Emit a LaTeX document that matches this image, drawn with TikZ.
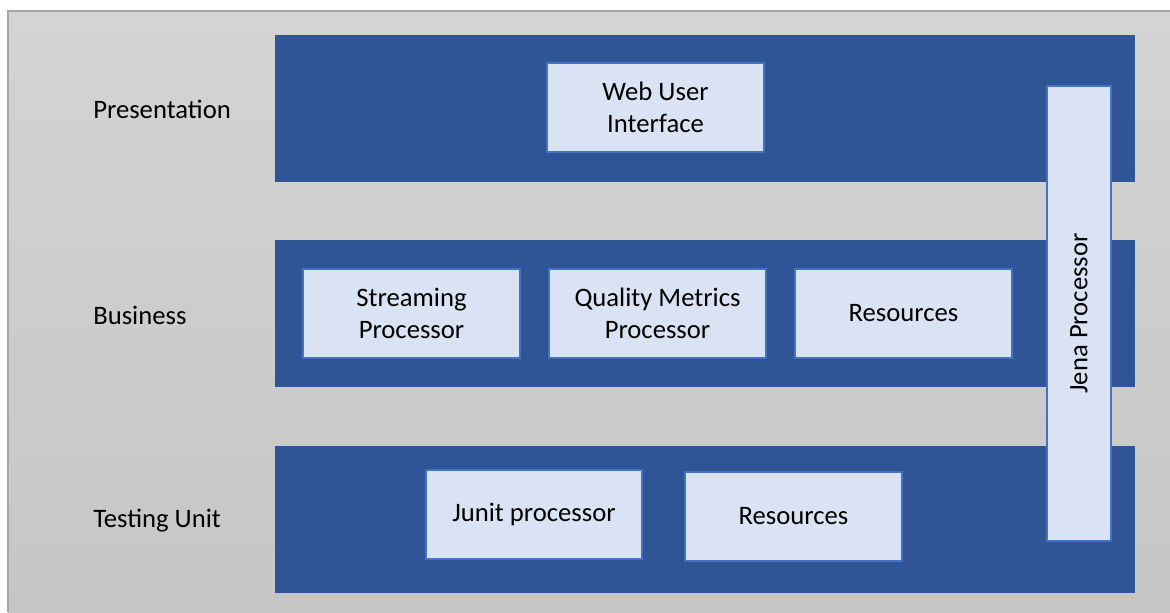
\documentclass[tikz,border=0pt]{standalone}
\usepackage{fontspec}
\setmainfont{Carlito}
\definecolor{band}{HTML}{2F5597}
\definecolor{boxfill}{HTML}{DAE3F3}
\definecolor{boxline}{HTML}{4472C4}
\definecolor{bgtop}{HTML}{D4D4D4}
\definecolor{bgbot}{HTML}{C6C6C6}
\definecolor{bgline}{HTML}{A6A6A6}
\tikzset{
  bandbox/.style={fill=band, draw=none},
  compbox/.style={fill=boxfill, draw=boxline, line width=0.9pt, align=center, inner sep=0pt, font=\fontsize{20pt}{24pt}\selectfont},
  layerlabel/.style={anchor=west, inner sep=0pt, font=\fontsize{20pt}{24pt}\selectfont}
}
\begin{document}
\begin{tikzpicture}[x=0.75pt,y=-0.75pt]
\useasboundingbox (0,0) rectangle (1170,612);
\fill[white] (0,0) rectangle (1170,612);
\shade[top color=bgtop, bottom color=bgbot] (8,11) rectangle (1170,612);
\draw[bgline, line width=1pt] (8,612) -- (8,11) -- (1170,11);
% bands
\fill[bandbox] (275,35) rectangle (1135,182);
\fill[bandbox] (275,240) rectangle (1135,387);
\fill[bandbox] (275,446) rectangle (1135,593);
% labels
\node[layerlabel] (lp) at (93,109) {Presentation};
\node[layerlabel] (lb) at (93,315) {Business};
\node[layerlabel] (lt) at (93,521) {Testing Unit};
% boxes
\node[compbox, minimum width=162.75pt, minimum height=66.75pt] (web) at (655.5,107.5) {Web User\\Interface};
\node[compbox, minimum width=162.75pt, minimum height=66.75pt] (stream) at (411.5,313.5) {Streaming\\Processor};
\node[compbox, minimum width=162.75pt, minimum height=66.75pt] (qm) at (657.5,313.5) {Quality Metrics\\Processor};
\node[compbox, minimum width=162.75pt, minimum height=66.75pt] (res1) at (903.5,313.5) {Resources};
\node[compbox, minimum width=162pt, minimum height=66.75pt] (junit) at (534,514.5) {Junit processor};
\node[compbox, minimum width=162.75pt, minimum height=66.75pt] (res2) at (793.5,516.5) {Resources};
\node[compbox, minimum width=48pt, minimum height=341.25pt] (jena) at (1079,313.5) {};
\node[rotate=90, inner sep=0pt, font=\fontsize{20pt}{24pt}\selectfont] (jenatext) at (jena.center) {Jena Processor};
\end{tikzpicture}
\end{document}
